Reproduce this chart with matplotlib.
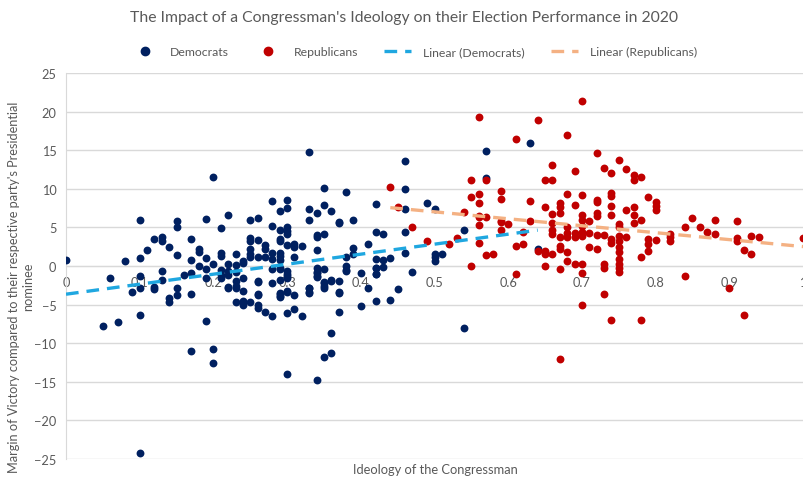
import matplotlib
matplotlib.use("Agg")
import matplotlib.pyplot as plt
from matplotlib.lines import Line2D
import numpy as np

plt.rcParams['font.family'] = ['Lato', 'DejaVu Sans']

# ideology score -> list of margins
dem_cols = {
    0.00: [0.8],
    0.05: [-7.8],
    0.06: [-1.6],
    0.07: [-7.2],
    0.08: [0.6],
    0.09: [-3.4],
    0.10: [6.0, 1.0, -1.3, -2.8, -6.4, -24.2],
    0.11: [2.1],
    0.12: [3.5, -2.7, -3.0],
    0.13: [3.8, 3.2, -0.7, -1.8],
    0.14: [2.5, -4.2, -4.7],
    0.15: [5.8, 5.0, 1.4, -2.9, -3.7],
    0.16: [-1.2],
    0.17: [3.5, 0.8, -0.9, -3.6, -11.0],
    0.18: [2.2, 1.8, 0.0],
    0.19: [6.1, 1.0, -0.4, -1.6, -7.1],
    0.20: [11.5, 0.2, -10.7, -12.6],
    0.21: [4.9, 1.7, 1.3, -0.5, -1.2, -1.5],
    0.22: [6.6, 0.2, -0.6, -1.2, -2.7, -2.9],
    0.23: [1.6, 0.1, -0.8, -2.0, -2.6, -2.9, -4.7],
    0.24: [0.6, 0.4, -1.5, -3.3, -4.5, -4.7, -5.1],
    0.25: [6.0, 3.6, 3.2, 2.2, 1.5, 1.1, -4.7],
    0.26: [6.2, 3.4, 1.2, -2.0, -2.1, -3.6, -3.8, -5.1, -5.4],
    0.27: [2.7, 2.2, 1.2, -5.9],
    0.28: [8.4, 5.2, 1.7, 0.9, -0.4, -2.2, -6.5],
    0.29: [7.1, 4.7, 3.5, 3.2, 1.7, 1.3, 0.8, -0.2, -0.4, -1.8, -3.5, -3.6, -3.9, -4.0],
    0.30: [8.5, 7.5, 5.1, 4.5, 4.1, 2.7, -0.6, -1.1, -1.3, -1.5, -3.3, -3.4, -6.1, -14.0],
    0.31: [2.9, 2.4, 1.1, -3.8, -5.6],
    0.32: [2.6, -6.5],
    0.33: [14.8, 7.4, 5.9, -2.8, -2.9, -3.4, -3.5],
    0.34: [6.8, 4.0, 3.7, 2.1, -0.2, -0.8, -0.9, -1.3, -1.4, -14.8],
    0.35: [10.1, 7.9, 4.2, -0.4, -2.1, -2.2, -2.6, -2.9, -11.8],
    0.36: [7.1, -1.8, -1.9, -8.7, -11.3],
    0.37: [5.7, 5.6, -1.9, -3.4, -3.5, -6.0],
    0.38: [9.6, 1.2, 0.0, -0.5, -0.6],
    0.39: [5.9, 2.3, 1.5],
    0.40: [-0.9, -5.2],
    0.41: [2.8, -2.9],
    0.42: [8.0, 4.4, 0.9, -0.2, -0.3, -1.0, -1.1, -4.6],
    0.43: [4.2, 0.8, -0.1],
    0.44: [1.0, -4.4],
    0.45: [-3.0],
    0.46: [13.6, 10.0, 7.4, 4.4, 1.7],
    0.47: [-0.8],
    0.49: [8.1],
    0.50: [7.4, 1.5, 1.1, 0.6],
    0.51: [1.6],
    0.54: [4.7, -8.0],
    0.57: [14.9, 11.4],
    0.63: [15.9],
    0.64: [2.2],
}

rep_cols = {
    0.44: [10.2],
    0.45: [7.6],
    0.47: [5.0],
    0.49: [3.2],
    0.52: [2.9],
    0.53: [3.6],
    0.54: [7.0],
    0.55: [11.1, 8.9, 0.0],
    0.56: [19.3, 9.3, 8.2, 6.5, 6.3, 5.3, 3.0],
    0.57: [11.1, 6.3, 1.4],
    0.58: [1.6],
    0.59: [9.7, 8.7, 5.8, 5.7, 4.6],
    0.60: [5.5],
    0.61: [16.4, 2.6, -1.0],
    0.62: [4.4, 2.9],
    0.63: [8.4, 5.8],
    0.64: [18.9, 1.9],
    0.65: [11.1, 7.6, 1.9, 1.5, 0.0],
    0.66: [13.1, 11.1, 6.7, 5.6, 4.7, 4.2, 1.6],
    0.67: [8.1, 7.6, 6.8, 3.7, 2.6, 2.2, -0.4, -12.1],
    0.68: [17.0, 9.3, 5.0, 4.3, 3.8, 1.8, 0.6],
    0.69: [12.3, 7.9, 4.3, 3.8, 0.3],
    0.70: [21.4, 9.2, 6.6, 6.0, 5.2, 4.4, 3.9, 0.2, -0.9, -5.0],
    0.71: [5.8, 4.3, 2.5],
    0.72: [14.6, 8.6, 8.3, 6.9, 6.5, 4.0, 2.2],
    0.73: [12.7, 4.0, 0.2, -0.2, -3.6],
    0.74: [12.0, 9.5, 9.0, 7.8, 6.6, 3.5, 3.0, -7.0],
    0.75: [13.7, 5.4, 5.0, 3.9, 3.2, 2.4, 1.8, 0.9, 0.3, -0.2, -0.8],
    0.76: [12.5, 7.3, 3.8],
    0.77: [11.8, 11.2, 7.6, 6.6, 5.6],
    0.78: [11.5, 6.0, 1.2, -7.0],
    0.79: [8.9, 3.5, 2.8, 1.9],
    0.80: [8.3, 7.8, 7.3, 3.4],
    0.82: [4.2, 3.7, 3.3],
    0.84: [5.0, -1.3],
    0.85: [6.2],
    0.86: [5.1],
    0.87: [4.4],
    0.88: [6.0, 4.1],
    0.90: [-2.9],
    0.91: [5.8, 3.6, 3.2],
    0.92: [2.1, -6.4],
    0.93: [3.9, 1.6],
    0.94: [3.8],
    1.00: [3.6],
}

dem_x = np.array([k for k, v in dem_cols.items() for _ in v])
dem_y = np.array([y for v in dem_cols.values() for y in v])
rep_x = np.array([k for k, v in rep_cols.items() for _ in v])
rep_y = np.array([y for v in rep_cols.values() for y in v])

navy = '#002060'
red = '#c00000'
blue_line = '#1fa7e0'
orange_line = '#f4b183'
grey_txt = '#595959'
grid_c = '#d9d9d9'
dash = (0, (3.8, 2.4))

fig = plt.figure(figsize=(8.04, 4.81), dpi=100)
ax = fig.add_axes([0.0821, 0.0437, 0.9167, 0.8025])

ax.scatter(dem_x, dem_y, s=32, c=navy, zorder=3, linewidths=0)
ax.scatter(rep_x, rep_y, s=32, c=red, zorder=3, linewidths=0)

# excel style linear trend lines over the range of each series
for xs, ys, col in [(dem_x, dem_y, blue_line), (rep_x, rep_y, orange_line)]:
    m, b = np.polyfit(xs, ys, 1)
    xx = np.array([xs.min(), xs.max()])
    ax.plot(xx, m * xx + b, color=col, lw=2.4, ls=dash, zorder=4,
            dash_capstyle='butt')

ax.set_xlim(0, 1)
ax.set_ylim(-25, 25)
ax.set_yticks(np.arange(-25, 26, 5))
ax.set_xticks(np.arange(0, 1.01, 0.1))
ax.set_xticklabels(['0'] + ['%.1f' % v for v in np.arange(0.1, 0.95, 0.1)] + ['1'])
ax.yaxis.grid(True, color=grid_c, lw=1)
ax.set_axisbelow(True)

for s in ['top', 'right']:
    ax.spines[s].set_visible(False)
ax.spines['bottom'].set_position(('data', 0))
ax.spines['bottom'].set_color(grid_c)
ax.spines['left'].set_color(grid_c)
ax.tick_params(length=0, colors=grey_txt, labelsize=9.2)
ax.tick_params(axis='y', pad=7)
ax.tick_params(axis='x', pad=7)

fig.text(0.503, 0.962, "The Impact of a Congressman's Ideology on their Election Performance in 2020",
         ha='center', va='center', fontsize=11.3, color=grey_txt)
fig.text(0.541, 0.022, "Ideology of the Congressman", ha='center', va='center',
         fontsize=9.3, color=grey_txt)
fig.text(0.026, 0.403, "Margin of Victory compared to their respective party's Presidential\nnominee",
         ha='center', va='center', rotation=90, fontsize=9.2, color=grey_txt,
         multialignment='center', linespacing=1.15)

handles = [
    Line2D([], [], ls='none', marker='o', color=navy, markersize=6),
    Line2D([], [], ls='none', marker='o', color=red, markersize=6),
    Line2D([], [], color=blue_line, lw=2.4, ls=dash),
    Line2D([], [], color=orange_line, lw=2.4, ls=dash),
]
labels = ['Democrats', 'Republicans', 'Linear (Democrats)', 'Linear (Republicans)']
leg = fig.legend(handles, labels, loc='center', bbox_to_anchor=(0.515, 0.89), ncol=4,
                 frameon=False, fontsize=8.8, handlelength=2.2, columnspacing=2.1,
                 handletextpad=1.0)
for t in leg.get_texts():
    t.set_color(grey_txt)

fig.savefig('out.png', dpi=100)
